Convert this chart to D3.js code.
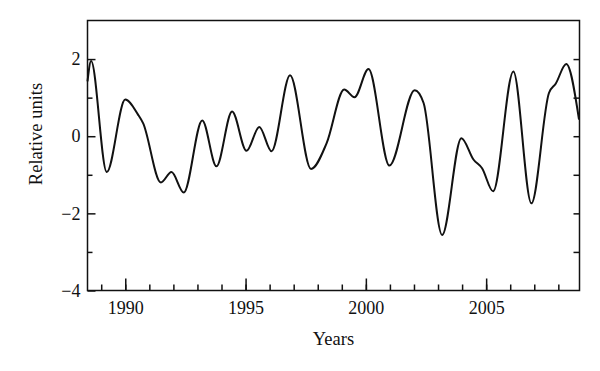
<!DOCTYPE html>
<html lang="en">
<head>
<meta charset="UTF-8">
<title>Relative units by year</title>
<script src="https://d3js.org/d3.v7.min.js"></script>
<style>
    body { margin: 0; background: #fff; }
    .axis text { font-family: "Liberation Serif", "DejaVu Serif", serif; font-size: 18px; fill: #111; }
    .axis path, .axis line { stroke: #111; stroke-width: 1.5px; }
    .label { font-family: "Liberation Serif", "DejaVu Serif", serif; font-size: 18.5px; fill: #111; }
    .curve { fill: none; stroke: #111; stroke-width: 2px; }
</style>
</head>
<body>
<div id="chart"></div>
<script>
    // values (decimal years, relative units)
    const years = [1988.43, 1988.58, 1989.23, 1990.0, 1990.53, 1990.74, 1991.48, 1991.92,
        1992.43, 1993.2, 1993.79, 1994.44, 1995.04, 1995.57, 1996.08, 1996.85,
        1997.72, 1998.37, 1999.1, 1999.53, 2000.11, 2000.98, 2002.03, 2002.4,
        2003.17, 2003.97, 2004.48, 2004.83, 2005.29, 2006.13, 2006.88, 2007.61,
        2007.89, 2008.33, 2008.86];
    const values = [1.42, 1.95, -0.93, 0.95, 0.56, 0.34, -1.2, -0.93,
        -1.46, 0.41, -0.78, 0.64, -0.38, 0.24, -0.39, 1.58,
        -0.85, -0.18, 1.21, 1.01, 1.74, -0.76, 1.19, 0.86,
        -2.56, -0.05, -0.61, -0.83, -1.43, 1.68, -1.74, 1.12,
        1.36, 1.87, 0.43];

    const majorYears = [1990, 1995, 2000, 2005];
    const minorYears = d3.range(1989, 2009);
    const majorY = [-4, -2, 0, 2];
    const minorY = [-3, -1, 1];
    const rightY = [-3, -2, -1, 0, 1, 2];

    const width = 600, height = 371;
    const margin = {top: 20.5, right: 20.5, bottom: 80.5, left: 87.5};
    const w = width - margin.left - margin.right;
    const h = height - margin.top - margin.bottom;

    const svg = d3.select("#chart").append("svg")
        .attr("width", width)
        .attr("height", height);

    const g = svg.append("g")
        .attr("transform", "translate(" + margin.left + "," + margin.top + ")");

    const x = d3.scaleLinear().domain([1988.43, 2008.88]).range([0, w]);
    const y = d3.scaleLinear().domain([-4, 3]).range([h, 0]);

    // frame
    g.append("rect")
        .attr("width", w)
        .attr("height", h)
        .attr("fill", "none")
        .attr("stroke", "#111")
        .attr("stroke-width", 1.5);

    // bottom axis, ticks pointing inward
    g.append("g")
        .attr("class", "axis")
        .attr("transform", "translate(0," + h + ")")
        .call(d3.axisBottom(x).tickValues(minorYears).tickSize(-6).tickFormat(""))
        .call(a => a.select(".domain").remove());

    g.append("g")
        .attr("class", "axis")
        .attr("transform", "translate(0," + h + ")")
        .call(d3.axisBottom(x).tickValues(majorYears).tickSize(-12).tickPadding(11).tickFormat(d3.format("d")))
        .call(a => a.select(".domain").remove());

    // left axis
    g.append("g")
        .attr("class", "axis")
        .call(d3.axisLeft(y).tickValues(minorY).tickSize(-5).tickFormat(""))
        .call(a => a.select(".domain").remove());

    g.append("g")
        .attr("class", "axis")
        .call(d3.axisLeft(y).tickValues(majorY).tickSize(-8).tickPadding(7).tickFormat(d3.format("d")))
        .call(a => a.select(".domain").remove());

    // right axis, no labels
    g.append("g")
        .attr("class", "axis")
        .attr("transform", "translate(" + w + ",0)")
        .call(d3.axisRight(y).tickValues(rightY).tickSize(-6).tickFormat(""))
        .call(a => a.select(".domain").remove());

    // curve
    const data = years.map((yr, i) => ({year: yr, value: values[i]}));
    const line = d3.line()
        .x(d => x(d.year))
        .y(d => y(d.value))
        .curve(d3.curveMonotoneX);

    g.append("path")
        .datum(data)
        .attr("class", "curve")
        .attr("d", line);

    // axis titles
    svg.append("text")
        .attr("class", "label")
        .attr("x", margin.left + w / 2)
        .attr("y", 345)
        .attr("text-anchor", "middle")
        .text("Years");

    svg.append("text")
        .attr("class", "label")
        .attr("transform", "translate(42,134) rotate(-90)")
        .attr("text-anchor", "middle")
        .text("Relative units");
</script>
</body>
</html>
